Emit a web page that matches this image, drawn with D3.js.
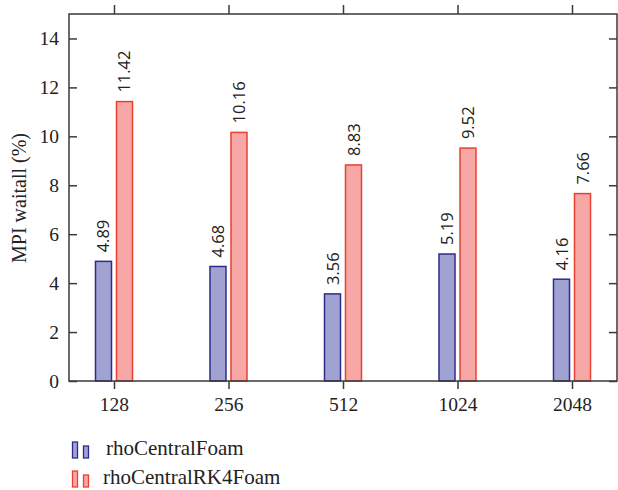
<!DOCTYPE html>
<html><head><meta charset="utf-8">
<script src="https://cdn.jsdelivr.net/npm/d3@7"></script>
<style>body{margin:0;background:#fff}</style>
</head><body>
<svg id="c" width="618" height="490"></svg>
<script>
const categories = ["128", "256", "512", "1024", "2048"];
const seriesNames = ["rhoCentralFoam", "rhoCentralRK4Foam"];
const rhoCentralFoam = [4.89, 4.68, 3.56, 5.19, 4.16];
const rhoCentralRK4Foam = [11.42, 10.16, 8.83, 9.52, 7.66];
const yTicks = [0, 2, 4, 6, 8, 10, 12, 14];

const fills = ["#a0a3d2", "#f7a8a6"];
const strokes = ["#2f2b8c", "#e8412f"];
const svg = d3.select("#c");
const L = 69, R = 617, T = 14, B = 381;
const x = d3.scalePoint().domain(categories).range([L, R]).padding(0.393);
const y = d3.scaleLinear().domain([0, 15]).range([B, T]);
const serif = "'Liberation Serif', 'Times New Roman', serif";
const axisColor = "#3a3a3a";

// bars
const bw = 17, gap = 2;
const series = [rhoCentralFoam, rhoCentralRK4Foam];
series.forEach((vals, si) => {
  const g = svg.append("g");
  const xoff = si === 0 ? -gap - bw : gap;
  g.selectAll("rect").data(vals).join("rect")
    .attr("x", (d, i) => x(categories[i]) + xoff + 0.5)
    .attr("y", d => y(d))
    .attr("width", bw - 1)
    .attr("height", d => B - y(d))
    .attr("fill", fills[si]).attr("stroke", strokes[si]).attr("stroke-width", 1.5);
  g.selectAll("text").data(vals).join("text")
    .attr("transform", (d, i) => `translate(${x(categories[i]) + xoff + bw / 2 + 6},${y(d) - 9}) rotate(-90)`)
    .attr("font-family", "'Open Sans', sans-serif").attr("font-size", 16.5)
    .attr("fill", "#222")
    .text(d => d.toFixed(2));
});

// frame
svg.append("rect").attr("x", L).attr("y", T).attr("width", R - L).attr("height", B - T)
  .attr("fill", "none").attr("stroke", axisColor).attr("stroke-width", 1.5);

// left axis
const yl = svg.append("g").attr("transform", `translate(${L},0)`)
  .call(d3.axisLeft(y).tickValues(yTicks).tickSize(-8).tickPadding(10).tickFormat(d3.format("d")));
yl.select(".domain").remove();
yl.selectAll("line").attr("stroke", axisColor).attr("stroke-width", 1.5);
yl.selectAll("text").attr("font-family", serif).attr("font-size", 19.5).attr("fill", "#222");
// right axis
const yr = svg.append("g").attr("transform", `translate(${R},0)`)
  .call(d3.axisRight(y).tickValues(yTicks).tickSize(-8).tickFormat(""));
yr.select(".domain").remove();
yr.selectAll("line").attr("stroke", axisColor).attr("stroke-width", 1.5);
// bottom axis
const xb = svg.append("g").attr("transform", `translate(0,${B})`)
  .call(d3.axisBottom(x).tickSize(8).tickPadding(8));
xb.select(".domain").remove();
xb.selectAll("line").attr("stroke", axisColor).attr("stroke-width", 1.5);
xb.selectAll("text").attr("font-family", serif).attr("font-size", 19.5).attr("fill", "#222");
// top axis
const xt = svg.append("g").attr("transform", `translate(0,${T})`)
  .call(d3.axisTop(x).tickSize(9).tickFormat(""));
xt.select(".domain").remove();
xt.selectAll("line").attr("stroke", axisColor).attr("stroke-width", 1.5);

// y label
svg.append("text").attr("transform", `translate(26,198) rotate(-90)`)
  .attr("text-anchor", "middle").attr("font-family", serif).attr("font-size", 20).attr("fill", "#222")
  .text("MPI waitall (%)");

// legend
const leg = svg.append("g");
seriesNames.forEach((name, i) => {
  const yb = 458 + i * 29;
  leg.append("rect").attr("x", 72.5).attr("y", yb - 16).attr("width", 5).attr("height", 16)
    .attr("fill", fills[i]).attr("stroke", strokes[i]).attr("stroke-width", 1.3);
  leg.append("rect").attr("x", 83.5).attr("y", yb - 12).attr("width", 5).attr("height", 12)
    .attr("fill", fills[i]).attr("stroke", strokes[i]).attr("stroke-width", 1.3);
  leg.append("text").attr("x", i === 0 ? 106 : 103).attr("y", yb - 3)
    .attr("font-family", serif).attr("font-size", 21).attr("fill", "#222").text(name);
});
</script>
</body></html>
